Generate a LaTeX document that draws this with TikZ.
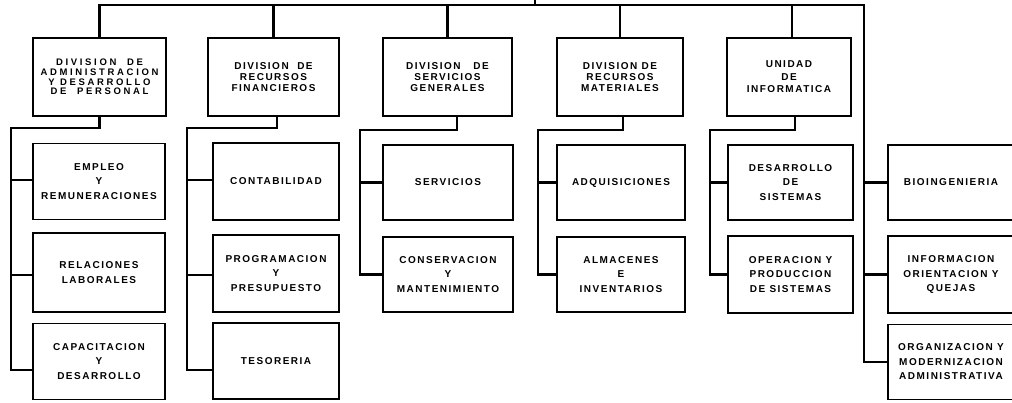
\documentclass[tikz,border=0pt]{standalone}
\usepackage{fontspec}
\newfontfamily\orgfont{Liberation Sans}[LetterSpace=15]
\newfontfamily\wideorgfont{Liberation Sans}[LetterSpace=28]
\begin{document}
\begin{tikzpicture}[x=1pt,y=-1pt]
\tikzset{
  box/.style={draw, line width=1.6pt, align=center, inner sep=0pt,
    font=\orgfont\bfseries\fontsize{10}{14.5}\selectfont},
  divbox/.style={box, minimum height=78, font=\orgfont\bfseries\fontsize{10}{11}\selectfont},
  subbox/.style={box, minimum height=76},
  link/.style={line width=2.2pt}
}
\fill[white] (0,0) rectangle (1012,402);
\useasboundingbox (0,0) rectangle (1012,402);
\clip (0,0) rectangle (1012,402);

% level 1
\node[divbox, minimum width=133, font=\wideorgfont\bfseries\fontsize{9.5}{9.8}\selectfont] (D1) at (99.5,77) {DIVISION\ \ DE\\ADMINISTRACION\\Y DESARROLLO\\DE\ \ PERSONAL};
\node[divbox, minimum width=131] (D2) at (273.5,77) {DIVISION\ \ DE\\RECURSOS\\FINANCIEROS};
\node[divbox, minimum width=129] (D3) at (447.5,77) {DIVISION\ \ \ DE\\SERVICIOS\\GENERALES};
\node[divbox, minimum width=126] (D4) at (620,77) {DIVISION DE\\RECURSOS\\MATERIALES};
\node[divbox, minimum width=124, font=\orgfont\bfseries\fontsize{10}{12.5}\selectfont] (D5) at (789,77) {UNIDAD\\DE\\INFORMATICA};

% column 1
\node[subbox, minimum width=132] (A1) at (99,181.5) {EMPLEO\\Y\\REMUNERACIONES};
\node[subbox, minimum width=132, minimum height=79] (A2) at (99,272.5) {RELACIONES\\LABORALES};
\node[subbox, minimum width=132] (A3) at (99,361.5) {CAPACITACION\\Y\\DESARROLLO};
% column 2
\node[subbox, minimum width=126, minimum height=77] (B1) at (276,181.5) {CONTABILIDAD};
\node[subbox, minimum width=126, minimum height=77] (B2) at (276,273.5) {PROGRAMACION\\Y\\PRESUPUESTO};
\node[subbox, minimum width=126] (B3) at (276,361) {TESORERIA};
% column 3
\node[subbox, minimum width=130, minimum height=75] (C1) at (448,182.5) {SERVICIOS};
\node[subbox, minimum width=130, minimum height=75] (C2) at (448,274.5) {CONSERVACION\\Y\\MANTENIMIENTO};
% column 4
\node[subbox, minimum width=128, minimum height=75] (E1) at (621,182.5) {ADQUISICIONES};
\node[subbox, minimum width=128, minimum height=75] (E2) at (621,274.5) {ALMACENES\\E\\INVENTARIOS};
% column 5
\node[subbox, minimum width=125, minimum height=75] (F1) at (790.5,182.5) {DESARROLLO\\DE\\SISTEMAS};
\node[subbox, minimum width=125, minimum height=77] (F2) at (790.5,274.5) {OPERACION Y\\PRODUCCION\\DE SISTEMAS};
% column 6
\node[subbox, minimum width=126, minimum height=75] (G1) at (951,182.5) {BIOINGENIERIA};
\node[subbox, minimum width=126, minimum height=77] (G2) at (951,274.5) {INFORMACION\\ORIENTACION Y\\QUEJAS};
\node[subbox, minimum width=126, minimum height=75] (G3) at (951,362) {ORGANIZACION Y\\MODERNIZACION\\ADMINISTRATIVA};

% connector anchor points
\coordinate (T) at (535,0);
\coordinate (TR) at (864,5);
\coordinate (d5n) at ([xshift=3]D5.north);
\coordinate (d2s) at ([xshift=3.5]D2.south);
\coordinate (d3s) at ([xshift=9.5]D3.south);
\coordinate (d4s) at ([xshift=3]D4.south);
\coordinate (d5s) at ([xshift=6]D5.south);
\coordinate (a1w) at ([yshift=1.5]A1.west);
\coordinate (a2w) at ([yshift=-2.5]A2.west);
\coordinate (a3w) at ([yshift=-8.5]A3.west);
\coordinate (b1w) at ([yshift=1.5]B1.west);
\coordinate (b2w) at ([yshift=-1.5]B2.west);
\coordinate (b3w) at ([yshift=-9]B3.west);
\coordinate (c1) at (11,128);
\coordinate (c2) at (187,128);
\coordinate (c3) at (360,130);
\coordinate (c4) at (538,130);
\coordinate (c5) at (710,130);

% top connectors
\draw[link] (D1.north) |- (TR) -- (TR |- G3.west) -- (G3.west);
\draw[link] (T) -- (T |- TR);
\draw[link] (D2.north) -- (D2.north |- TR);
\draw[link] (D3.north) -- (D3.north |- TR);
\draw[link] (D4.north) -- (D4.north |- TR);
\draw[link] (d5n) -- (d5n |- TR);
\draw[link] (G1.west) -- (G1.west -| TR);
\draw[link] (G2.west) -- (G2.west -| TR);

% column 1
\draw[link] (D1.south) |- (c1) -- (c1 |- a3w) -- (a3w);
\draw[link] (a1w) -- (a1w -| c1);
\draw[link] (a2w) -- (a2w -| c1);
% column 2
\draw[link] (d2s) |- (c2) -- (c2 |- b3w) -- (b3w);
\draw[link] (b1w) -- (b1w -| c2);
\draw[link] (b2w) -- (b2w -| c2);
% column 3
\draw[link] (d3s) |- (c3) -- (c3 |- C2.west) -- (C2.west);
\draw[link] (C1.west) -- (C1.west -| c3);
% column 4
\draw[link] (d4s) |- (c4) -- (c4 |- E2.west) -- (E2.west);
\draw[link] (E1.west) -- (E1.west -| c4);
% column 5
\draw[link] (d5s) |- (c5) -- (c5 |- F2.west) -- (F2.west);
\draw[link] (F1.west) -- (F1.west -| c5);
\end{tikzpicture}
\end{document}
